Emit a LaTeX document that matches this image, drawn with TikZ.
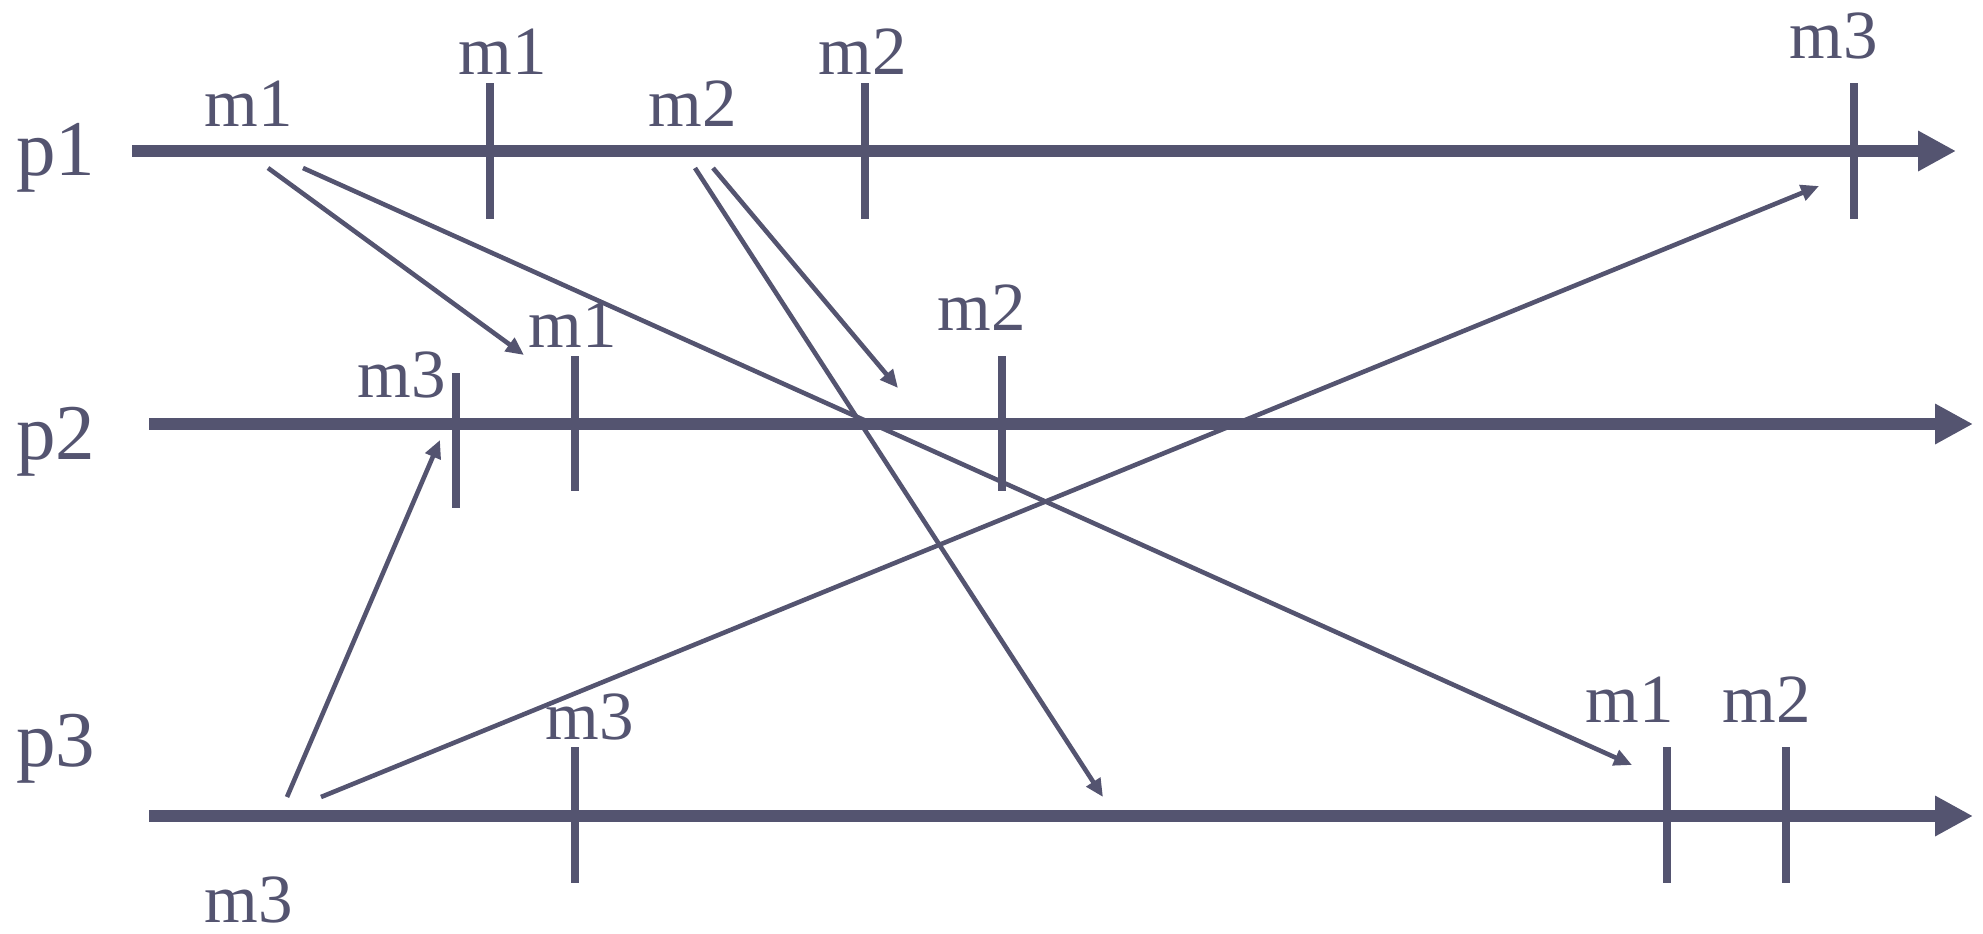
\documentclass[tikz,border=0pt]{standalone}
\usepackage{fontspec}
\setmainfont{Liberation Serif}
\usetikzlibrary{arrows.meta}
\definecolor{ink}{RGB}{84,84,112}
\begin{document}
\begin{tikzpicture}[x=0.5pt,y=-0.5pt,
  axisline/.style={ink,line width=6pt,-{Triangle[length=19pt,width=19pt]}},
  tickline/.style={ink,line width=4pt},
  msgline/.style={ink,line width=2.3pt,-{Triangle[length=9pt,width=8pt]}},
  plabel/.style={ink,inner sep=0pt,anchor=base west,font=\fontsize{39.5}{46}\selectfont},
  mlabel/.style={ink,inner sep=0pt,anchor=base west,font=\fontsize{34.5}{40}\selectfont}]
\useasboundingbox (0,0) rectangle (1983,933);
% process labels
\node[plabel] (lp1) at (16,175) {p1};
\node[plabel] (lp2) at (16,459) {p2};
\node[plabel] (lp3) at (16,766) {p3};
% axes
\coordinate (a1s) at (132,151); \coordinate (a1e) at (1956,151);
\coordinate (a2s) at (149,424); \coordinate (a2e) at (1973,424);
\coordinate (a3s) at (149,816); \coordinate (a3e) at (1973,816);
\draw[axisline] (a1s) -- (a1e);
\draw[axisline] (a2s) -- (a2e);
\draw[axisline] (a3s) -- (a3e);
% ticks
\coordinate (t11a) at (490,83);   \coordinate (t11b) at (490,219);
\coordinate (t12a) at (865,83);   \coordinate (t12b) at (865,219);
\coordinate (t13a) at (1854,83);  \coordinate (t13b) at (1854,219);
\coordinate (t21a) at (456,373);  \coordinate (t21b) at (456,508);
\coordinate (t22a) at (575,356);  \coordinate (t22b) at (575,491);
\coordinate (t23a) at (1002,356); \coordinate (t23b) at (1002,491);
\coordinate (t31a) at (575,747);  \coordinate (t31b) at (575,883);
\coordinate (t32a) at (1667,747); \coordinate (t32b) at (1667,883);
\coordinate (t33a) at (1786,747); \coordinate (t33b) at (1786,883);
\foreach \t in {t11,t12,t13,t21,t22,t23,t31,t32,t33}
  \draw[tickline] (\t a) -- (\t b);
% message labels
\node[mlabel] (s1) at (204,126) {m1};
\node[mlabel] (r11) at (458,74) {m1};
\node[mlabel] (s2) at (648,126) {m2};
\node[mlabel] (r12) at (818,74) {m2};
\node[mlabel] (r13) at (1789,58) {m3};
\node[mlabel] (r21) at (357,397) {m3};
\node[mlabel] (r22) at (528,347) {m1};
\node[mlabel] (r23) at (937,330) {m2};
\node[mlabel] (r31) at (545,739) {m3};
\node[mlabel] (r32) at (1585,722) {m1};
\node[mlabel] (r33) at (1722,722) {m2};
\node[mlabel] (s3) at (204,922) {m3};
% message arrows
\coordinate (m1a) at (268,168);  \coordinate (m1at) at (524,355);
\coordinate (m1b) at (303,168);  \coordinate (m1bt) at (1632,765);
\coordinate (m2a) at (695,168);  \coordinate (m2at) at (1103,797);
\coordinate (m2b) at (713,168);  \coordinate (m2bt) at (898,388);
\coordinate (m3a) at (287,797);  \coordinate (m3at) at (440,440);
\coordinate (m3b) at (321,797);  \coordinate (m3bt) at (1819,186);
\draw[msgline] (m1a) -- (m1at);
\draw[msgline] (m1b) -- (m1bt);
\draw[msgline] (m2a) -- (m2at);
\draw[msgline] (m2b) -- (m2bt);
\draw[msgline] (m3a) -- (m3at);
\draw[msgline] (m3b) -- (m3bt);
\end{tikzpicture}
\end{document}
